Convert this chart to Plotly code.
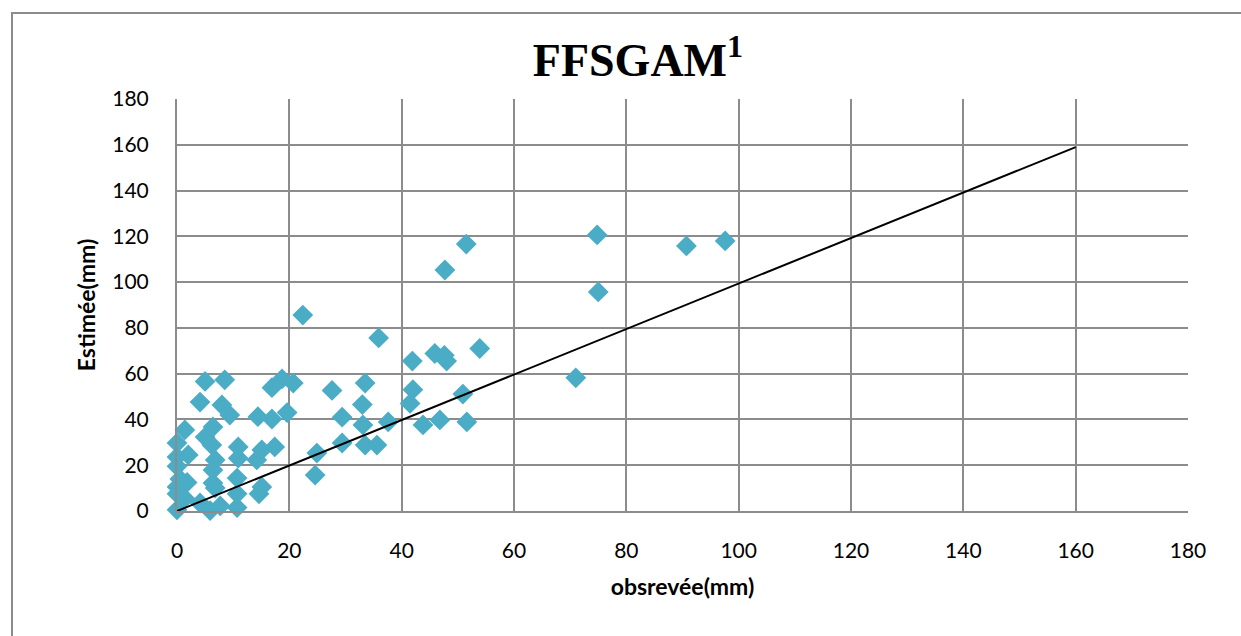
import plotly.graph_objects as go

obs = [0, 5.9, 7.7, 10.7, 4.1, 10.7, 14.6, 15.1, 10.7, 6.4, 1.8, 0, 0, 0, 6.4, 6.8,
       10.9, 10.9, 14.2, 15.1, 17.4, 2, 0, 0, 1.4, 5, 6.2, 6.4, 24.6, 24.9, 29.4,
       33.5, 35.6, 33.1, 37.6, 29.4, 33, 27.6, 33.5, 35.9, 41.9, 42, 41.5, 14.4,
       16.9, 19.6, 16.9, 18.7, 20.7, 9.4, 8, 4.1, 5, 8.5, 22.4, 43.8, 46.8, 51.6,
       50.9, 45.9, 47.6, 48, 53.9, 47.7, 51.5, 71, 74.8, 75, 90.7, 97.6, 1.4, 0.5, 6.8]
est = [0.5, 0.2, 2.2, 1.5, 3.5, 7.5, 7.5, 10.5, 14.4, 12.2, 12.5, 10.5, 7.5, 19.5,
       17.9, 22.3, 23.1, 28, 22.3, 26.7, 28, 24.5, 23.6, 29.7, 35.4, 32.3, 28.8,
       36.7, 15.7, 25.3, 29.7, 28.8, 28.8, 37.6, 38.9, 41, 46.5, 52.7, 55.9, 75.6,
       65.5, 53, 47, 41.2, 40.2, 43, 53.9, 57.7, 55.9, 41.9, 46.3, 47.6, 56.6, 57.3,
       85.6, 37.6, 39.8, 38.9, 51.1, 68.8, 68, 65.5, 71, 105.3, 116.6, 58.2, 120.6,
       95.7, 115.8, 118, 5.5, 14, 10]

line_x = [0, 160]
line_y = [0, 159]

x_ticks = [0, 20, 40, 60, 80, 100, 120, 140, 160, 180]
y_ticks = [0, 20, 40, 60, 80, 100, 120, 140, 160, 180]

fig = go.Figure()
fig.add_trace(go.Scatter(x=obs, y=est, mode="markers", cliponaxis=False,
                         marker=dict(symbol="diamond", size=16, color="#4BACC6",
                                     line=dict(width=0)),
                         showlegend=False))
fig.add_trace(go.Scatter(x=line_x, y=line_y, mode="lines", cliponaxis=False,
                         line=dict(color="black", width=2), showlegend=False))

axis_common = dict(showgrid=True, gridcolor="#8c8c8c", gridwidth=2,
                   showline=True, linecolor="#8c8c8c", linewidth=2,
                   zeroline=False, ticks="",
                   tickfont=dict(family="Lato, Carlito, sans-serif", size=21, color="black"),
                   range=[0, 180])

fig.update_xaxes(**axis_common, tickvals=x_ticks, ticklabelstandoff=20,
                 title=dict(text="<b>obsrevée(mm)</b>",
                            font=dict(family="Lato, sans-serif", size=23, color="black"),
                            standoff=18))
fig.update_yaxes(**axis_common, tickvals=y_ticks, ticklabelstandoff=22,
                 title=dict(text="<b>Estimée(mm)</b>",
                            font=dict(family="Lato, sans-serif", size=23, color="black"),
                            standoff=10))

fig.update_layout(
    width=1241, height=636,
    margin=dict(l=177, r=53, t=99, b=125),
    plot_bgcolor="white", paper_bgcolor="white",
    title=dict(text="<b>FFSGAM<sup>1</sup></b>",
               font=dict(family="Liberation Serif, Times New Roman, serif", size=46, color="black"),
               x=638 / 1241, xanchor="center", xref="container",
               y=1 - 60 / 636, yanchor="middle", yref="container"),
    shapes=[dict(type="rect", xref="paper", yref="paper",
                 x0=(12 - 177) / 1011, x1=(1260 - 177) / 1011,
                 y0=-0.5, y1=(511 - 13) / 412,
                 line=dict(color="#8c8c8c", width=2), fillcolor="rgba(0,0,0,0)",
                 layer="below")],
)

fig.write_html("out.html")
